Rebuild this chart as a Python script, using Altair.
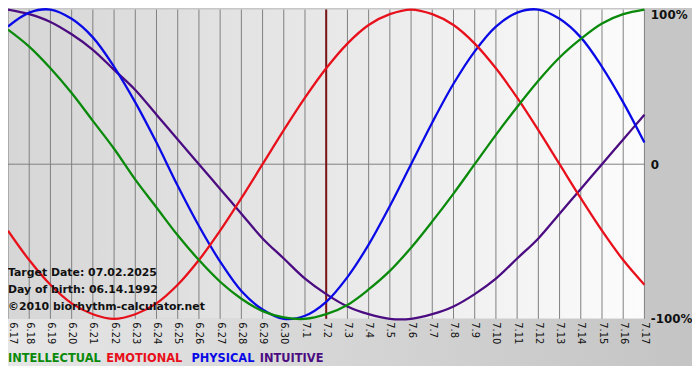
import altair as alt
import pandas as pd

# ---- data ----
dates = ["6.17", "6.18", "6.19", "6.20", "6.21", "6.22", "6.23", "6.24", "6.25", "6.26",
         "6.27", "6.28", "6.29", "6.30", "7.1", "7.2", "7.3", "7.4", "7.5", "7.6",
         "7.7", "7.8", "7.9", "7.10", "7.11", "7.12", "7.13", "7.14", "7.15", "7.16", "7.17"]

intellectual = [0.87, 0.76, 0.62, 0.46, 0.28, 0.10, -0.10, -0.28, -0.46, -0.62, -0.76, -0.87,
                -0.95, -0.99, -1.00, -0.97, -0.91, -0.81, -0.69, -0.54, -0.37, -0.19, 0.00,
                0.19, 0.37, 0.54, 0.69, 0.81, 0.91, 0.97, 1.00]
emotional = [-0.43, -0.62, -0.78, -0.90, -0.97, -1.00, -0.97, -0.90, -0.78, -0.62, -0.43, -0.22,
             0.00, 0.22, 0.43, 0.62, 0.78, 0.90, 0.97, 1.00, 0.97, 0.90, 0.78, 0.62, 0.43, 0.22,
             0.00, -0.22, -0.43, -0.62, -0.78]
physical = [0.89, 0.98, 1.00, 0.94, 0.82, 0.63, 0.40, 0.14, -0.14, -0.40, -0.63, -0.82, -0.94,
            -1.00, -0.98, -0.89, -0.73, -0.52, -0.27, 0.00, 0.27, 0.52, 0.73, 0.89, 0.98, 1.00,
            0.94, 0.82, 0.63, 0.40, 0.14]
intuitive = [1.00, 0.97, 0.92, 0.84, 0.74, 0.61, 0.48, 0.32, 0.16, 0.00, -0.16, -0.32, -0.48,
             -0.61, -0.74, -0.84, -0.92, -0.97, -1.00, -1.00, -0.97, -0.92, -0.84, -0.74, -0.61,
             -0.48, -0.32, -0.16, 0.00, 0.16, 0.32]

series_names = ["INTUITIVE", "PHYSICAL", "EMOTIONAL", "INTELLECTUAL"]
series_colors = ["#4b0c82", "#0a0ae6", "#e8101a", "#0a8a0a"]
target_date = "7.2"
y_ticks = [-1, 0, 1]
y_labels = ["-100%", "0", "100%"]
info_lines = ["Target Date: 07.02.2025", "Day of birth: 06.14.1992", "\u00a92010 biorhythm-calculator.net"]
legend_names = ["INTELLECTUAL", "EMOTIONAL", "PHYSICAL", "INTUITIVE"]

# ---- build tables ----
values_by_name = {"INTELLECTUAL": intellectual, "EMOTIONAL": emotional,
                  "PHYSICAL": physical, "INTUITIVE": intuitive}
rows = []
for name in series_names:
    for d, v in zip(dates, values_by_name[name]):
        rows.append({"date": d, "value": v, "series": name})
df = pd.DataFrame(rows)
dates_df = pd.DataFrame({"date": dates})

W, H = 642, 312
color_of = dict(zip(series_names, series_colors))

x_enc = alt.X("date:O", sort=dates,
              scale=alt.Scale(type="point", padding=0, domain=dates),
              axis=alt.Axis(title=None, labelAngle=90, labelAlign="left", labelBaseline="middle",
                            labelPadding=3, ticks=False, domain=False, grid=False,
                            labelOverlap=False, labelFont="DejaVu Sans", labelFontSize=10,
                            labelColor="#111111", zindex=2,
                            labelOffset={"condition": {"test": f"datum.value == '{dates[0]}'",
                                                       "value": 5}, "value": 0}))

label_expr = " : ".join(f"datum.value == {t} ? '{l}'" for t, l in zip(y_ticks, y_labels)) + " : ''"
y_scale = alt.Scale(domain=[-1, 1], nice=False, zero=False)
y_enc = alt.Y("value:Q", scale=y_scale,
              axis=alt.Axis(title=None, orient="right", values=y_ticks, labelExpr=label_expr,
                            ticks=False, domain=False, grid=False, labelPadding=6,
                            labelFont="DejaVu Sans", labelFontWeight="bold", labelFontSize=12,
                            labelColor="#111111",
                            labelBaseline={"condition": {"test": "datum.value == 1", "value": "top"},
                                           "value": "middle"},
                            zindex=2))

one = alt.Data(values=[{"k": 0}])

plot_grad = alt.LinearGradient(gradient="linear",
                               stops=[alt.GradientStop(color="#d6d6d6", offset=0),
                                      alt.GradientStop(color="#e8e8e8", offset=0.5),
                                      alt.GradientStop(color="#fcfcfc", offset=1)],
                               x1=0, x2=1, y1=0, y2=0)
bottom_grad = alt.LinearGradient(gradient="linear",
                                 stops=[alt.GradientStop(color="#e6e6e6", offset=0),
                                        alt.GradientStop(color="#c4c4c4", offset=1)],
                                 x1=0, x2=1, y1=0, y2=0)

plot_bg = alt.Chart(one).mark_rect(color=plot_grad).encode(
    x=alt.value(0), x2=alt.value(W), y=alt.value(0), y2=alt.value(H))
bottom_bg = alt.Chart(one).mark_rect(color=bottom_grad).encode(
    x=alt.value(0), x2=alt.value(W + 48), y=alt.value(H), y2=alt.value(H + 60))

grid = alt.Chart(dates_df).mark_rule(color="#808080", strokeWidth=1).encode(x=x_enc)
zero = alt.Chart(one).mark_rule(color="#808080", strokeWidth=1).encode(
    y=alt.datum(0, scale=y_scale))
target = alt.Chart(one).mark_rule(color="#7a1414", strokeWidth=2).encode(
    x=alt.datum(target_date))

lines = alt.Chart(df).mark_line(strokeWidth=2.3, interpolate="catmull-rom").encode(
    x=x_enc, y=y_enc,
    color=alt.Color("series:N", scale=alt.Scale(domain=series_names, range=series_colors),
                    legend=None))

layers = [plot_bg, bottom_bg, grid, zero, target, lines]

for i, t in enumerate(info_lines):
    layers.append(alt.Chart(one).mark_text(
        text=t, align="left", baseline="alphabetic", font="DejaVu Sans", fontWeight="bold",
        fontSize=11, color="#111111").encode(x=alt.value(0), y=alt.value(269 + 17 * i)))

legend_x = [0, 99, 185, 254]
for name, lx in zip(legend_names, legend_x):
    layers.append(alt.Chart(one).mark_text(
        text=name, align="left", baseline="alphabetic", font="DejaVu Sans", fontWeight="bold",
        fontSize=11.5, color=color_of[name]).encode(x=alt.value(lx), y=alt.value(H + 44)))

chart = alt.layer(*layers).properties(
    width=W, height=H,
    autosize=alt.AutoSizeParams(type="none"),
    padding={"left": 0, "top": 0, "right": 48, "bottom": 46},
    background="#c6c6c6",
).configure_view(stroke=None)

chart.save("out.html", embed_options={"renderer": "svg", "actions": False})
